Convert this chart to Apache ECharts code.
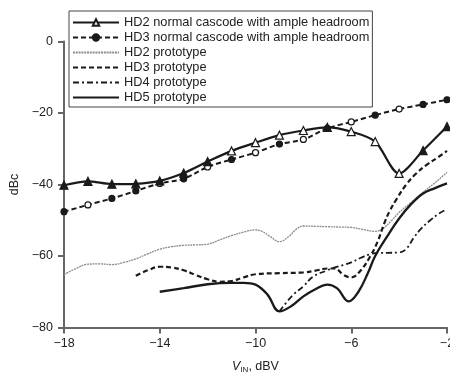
<!DOCTYPE html>
<html><head><meta charset="utf-8">
<script src="https://cdn.jsdelivr.net/npm/echarts@6/dist/echarts.min.js"></script>
<style>html,body{margin:0;padding:0;background:#fff}#c{width:450px;height:376px}</style>
</head><body><div id="c"></div>
<script>
const seriesNames = [
  'HD2 normal cascode with ample headroom',
  'HD3 normal cascode with ample headroom',
  'HD2 prototype',
  'HD3 prototype',
  'HD4 prototype',
  'HD5 prototype'
];
const xTicks = [-18, -14, -10, -6, -2];
const yTicks = [-80, -60, -40, -20, 0];

const normalX = [-18, -17, -16, -15, -14, -13, -12, -11, -10, -9, -8, -7, -6, -5, -4, -3, -2];
const hd2NormalY = [-40.2, -39.1, -39.9, -39.8, -39.0, -36.8, -33.6, -30.6, -28.3, -26.2, -24.9, -24.0, -25.2, -28.0, -36.9, -30.5, -23.8];
const hd3NormalY = [-47.6, -45.7, -43.9, -41.8, -39.7, -38.4, -35.1, -33.0, -31.1, -28.7, -27.4, -24.3, -22.5, -20.6, -18.9, -17.6, -16.3];

const hd2ProtoX = [-18, -17.5, -17, -16.5, -16, -15.5, -15, -14.5, -14, -13.5, -13, -12.5, -12, -11.5, -11, -10.5, -10, -9.7, -9.4, -9, -8.6, -8.3, -8, -7.5, -7, -6.5, -6, -5.5, -5, -4.7, -4.3, -4, -3.5, -3, -2.5, -2];
const hd2ProtoY = [-65.2, -63.5, -62.3, -62.2, -62.4, -61.8, -60.8, -59.4, -58.1, -57.4, -57.0, -56.9, -56.7, -55.5, -54.3, -53.3, -52.7, -53.2, -54.5, -56.0, -54.5, -52.5, -51.6, -51.7, -51.8, -51.9, -52.0, -52.6, -53.1, -52.4, -50.0, -47.8, -45.0, -42.2, -39.5, -36.6];

const hd3ProtoX = [-15, -14.5, -14, -13.5, -13, -12.5, -12, -11.5, -11, -10.5, -10, -9, -8, -7.5, -7, -6.7, -6.3, -6, -5.6, -5.2, -4.9, -4.6, -4.4, -4.1, -3.7, -3.3, -2.85, -2.4, -2];
const hd3ProtoY = [-65.5, -64.0, -63.0, -63.2, -64.0, -65.3, -66.5, -67.2, -67.0, -66.0, -65.1, -64.8, -64.6, -64.1, -63.5, -63.5, -65.4, -66.0, -64.0, -60.0, -56.0, -50.5, -47.5, -44.0, -40.0, -37.0, -34.5, -32.5, -30.6];

const hd4ProtoX = [-9, -8.45, -8, -7.6, -7, -6.76, -6, -5.6, -5.2, -4.8, -4.5, -4.0, -3.7, -3.4, -3.1, -2.7, -2.3, -2];
const hd4ProtoY = [-75.5, -71.0, -68.5, -65.8, -64.0, -63.4, -61.8, -60.5, -59.5, -59.1, -59.1, -59.0, -58.0, -55.0, -52.5, -50.0, -48.0, -46.9];

const hd5ProtoX = [-14, -13, -12, -11, -10.5, -10, -9.5, -9, -8.5, -8, -7.5, -7, -6.6, -6.1, -5.7, -5.3, -5, -4.5, -4, -3.5, -3, -2.5, -2];
const hd5ProtoY = [-70.0, -69.0, -67.9, -67.5, -67.5, -68.0, -70.8, -75.5, -74.0, -71.3, -69.3, -68.0, -69.0, -72.7, -70.0, -64.7, -60.0, -54.5, -49.5, -45.5, -42.5, -41.0, -39.7];

const pairs = (xs, ys) => xs.map((x, i) => [x, ys[i]]);
const ink = '#1a1a1a';
const hollowTri = [-11, -10, -9, -8, -6, -5, -4];
const hollowCirc = [-17, -14, -12, -10, -8, -6, -4];
const font = 'Liberation Sans, Arial, sans-serif';

const chart = echarts.init(document.getElementById('c'), null, {renderer: 'canvas'});
const minus = v => String(v).replace('-', '\u2212');

const legendData = seriesNames.map((n, i) => i < 2 ? {name: n} :
  {name: n, itemStyle: {opacity: 0, borderWidth: 0}});

chart.setOption({
  backgroundColor: '#fff',
  animation: false,
  textStyle: {fontFamily: font},
  grid: {left: 64, right: 3, top: 41.5, bottom: 48.5, containLabel: false, outerBoundsMode: 'none'},
  legend: {
    orient: 'vertical', left: 69, top: 11,
    padding: [4, 3, 2, 3],
    itemGap: 0, itemWidth: 46, itemHeight: 8,
    backgroundColor: '#fff', borderColor: '#444', borderWidth: 1,
    textStyle: {fontSize: 12.8, lineHeight: 15, color: '#222', fontFamily: font},
    data: legendData
  },
  xAxis: {
    type: 'value', min: -18, max: -2, interval: 2,
    name: '{i|V}{s|IN}{n|, dBV}', nameLocation: 'middle', nameGap: 32,
    nameTextStyle: {rich: {
      i: {fontSize: 12.5, fontStyle: 'italic', color: '#222', fontFamily: font},
      s: {fontSize: 8, color: '#222', verticalAlign: 'bottom', padding: [6, 0, 0, 0], fontFamily: font},
      n: {fontSize: 12.5, color: '#222', fontFamily: font}
    }},
    axisLine: {show: true, onZero: false, lineStyle: {color: '#666', width: 2}},
    axisTick: {show: true, customValues: xTicks, length: 6, lineStyle: {color: '#666', width: 2}},
    axisLabel: {customValues: xTicks, formatter: minus, fontSize: 12.5, color: '#222', margin: 10},
    splitLine: {show: false}
  },
  yAxis: {
    type: 'value', min: -80, max: 0, interval: 20,
    name: 'dBc', nameLocation: 'middle', nameGap: 38,
    nameTextStyle: {fontSize: 12.5, color: '#222'},
    axisLine: {show: true, onZero: false, lineStyle: {color: '#666', width: 2}},
    axisTick: {show: true, length: 6, lineStyle: {color: '#666', width: 2}},
    axisLabel: {formatter: minus, fontSize: 12.5, color: '#222', margin: 11},
    splitLine: {show: false}
  },
  series: [
    {
      name: seriesNames[0], type: 'line', smooth: 0.3,
      data: pairs(normalX, hd2NormalY).map(p => ({value: p,
        itemStyle: {color: hollowTri.includes(p[0]) ? '#fff' : ink, borderColor: ink, borderWidth: 1.2}})),
      symbol: 'triangle', symbolSize: 8,
      lineStyle: {color: ink, width: 2.2},
      itemStyle: {color: '#fff', borderColor: ink, borderWidth: 1.2}, z: 5
    },
    {
      name: seriesNames[1], type: 'line', smooth: 0.3,
      data: pairs(normalX, hd3NormalY).map(p => ({value: p,
        itemStyle: {color: hollowCirc.includes(p[0]) ? '#fff' : ink, borderColor: ink, borderWidth: 1.2}})),
      symbol: 'circle', symbolSize: 6,
      lineStyle: {color: ink, width: 2, type: [5, 3]},
      itemStyle: {color: ink, borderColor: ink, borderWidth: 1.2}, z: 4
    },
    {
      name: seriesNames[2], type: 'line', smooth: 0.4, symbol: 'none',
      data: pairs(hd2ProtoX, hd2ProtoY),
      lineStyle: {color: '#8c8c8c', width: 1.3, type: [2, 0.8]},
      itemStyle: {color: '#8c8c8c'}
    },
    {
      name: seriesNames[3], type: 'line', smooth: 0.4, symbol: 'none',
      data: pairs(hd3ProtoX, hd3ProtoY),
      lineStyle: {color: ink, width: 2.2, type: [5, 3]},
      itemStyle: {color: ink}
    },
    {
      name: seriesNames[4], type: 'line', smooth: 0.4, symbol: 'none',
      data: pairs(hd4ProtoX, hd4ProtoY),
      lineStyle: {color: ink, width: 1.8, type: [6, 3, 2, 3]},
      itemStyle: {color: ink}
    },
    {
      name: seriesNames[5], type: 'line', smooth: 0.4, symbol: 'none',
      data: pairs(hd5ProtoX, hd5ProtoY),
      lineStyle: {color: ink, width: 2.3},
      itemStyle: {color: ink}
    }
  ]
});
</script></body></html>
